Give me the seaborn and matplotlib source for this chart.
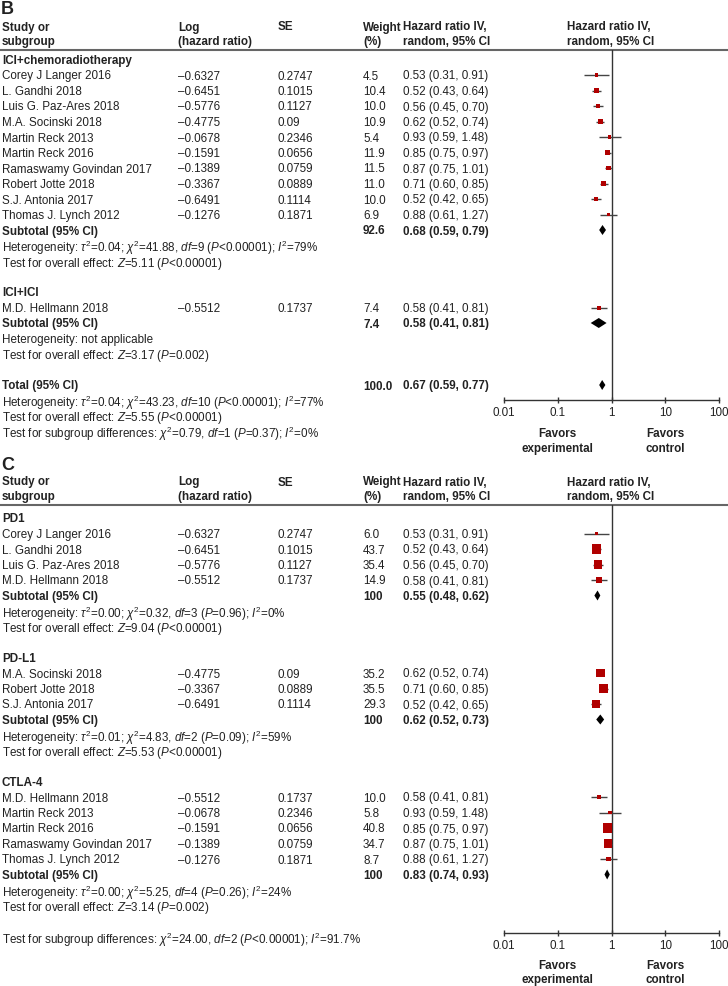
import numpy as np
import matplotlib
matplotlib.use("Agg")
import matplotlib.pyplot as plt
import seaborn as sns

sns.set_theme(style="white")
plt.rcParams['font.family'] = ['Liberation Sans', 'DejaVu Sans']
plt.rcParams['mathtext.fontset'] = 'custom'
plt.rcParams['mathtext.rm'] = 'Liberation Sans'
plt.rcParams['mathtext.it'] = 'Liberation Sans:italic'
plt.rcParams['mathtext.bf'] = 'Liberation Sans:bold'

# ---- panel B data ----
chemo_names = ["Corey J Langer 2016", "L. Gandhi 2018", "Luis G. Paz-Ares 2018", "M.A. Socinski 2018",
               "Martin Reck 2013", "Martin Reck 2016", "Ramaswamy Govindan 2017", "Robert Jotte 2018",
               "S.J. Antonia 2017", "Thomas J. Lynch 2012"]
chemo_loghr = [-0.6327, -0.6451, -0.5776, -0.4775, -0.0678, -0.1591, -0.1389, -0.3367, -0.6491, -0.1276]
chemo_se = [0.2747, 0.1015, 0.1127, 0.09, 0.2346, 0.0656, 0.0759, 0.0889, 0.1114, 0.1871]
chemo_w = [4.5, 10.4, 10.0, 10.9, 5.4, 11.9, 11.5, 11.0, 10.0, 6.9]
chemo_hr = [0.53, 0.52, 0.56, 0.62, 0.93, 0.85, 0.87, 0.71, 0.52, 0.88]
chemo_lo = [0.31, 0.43, 0.45, 0.52, 0.59, 0.75, 0.75, 0.60, 0.42, 0.61]
chemo_hi = [0.91, 0.64, 0.70, 0.74, 1.48, 0.97, 1.01, 0.85, 0.65, 1.27]
chemo_sub = ("92.6", 0.68, 0.59, 0.79)

ici_names = ["M.D. Hellmann 2018"]
ici_loghr = [-0.5512]
ici_se = [0.1737]
ici_w = [7.4]
ici_hr = [0.58]
ici_lo = [0.41]
ici_hi = [0.81]
ici_sub = ("7.4", 0.58, 0.41, 0.81)

total_b = ("100.0", 0.67, 0.59, 0.77)

# ---- panel C data ----
pd1_names = ["Corey J Langer 2016", "L. Gandhi 2018", "Luis G. Paz-Ares 2018", "M.D. Hellmann 2018"]
pd1_loghr = [-0.6327, -0.6451, -0.5776, -0.5512]
pd1_se = [0.2747, 0.1015, 0.1127, 0.1737]
pd1_w = [6.0, 43.7, 35.4, 14.9]
pd1_hr = [0.53, 0.52, 0.56, 0.58]
pd1_lo = [0.31, 0.43, 0.45, 0.41]
pd1_hi = [0.91, 0.64, 0.70, 0.81]
pd1_sub = ("100", 0.55, 0.48, 0.62)

pdl1_names = ["M.A. Socinski 2018", "Robert Jotte 2018", "S.J. Antonia 2017"]
pdl1_loghr = [-0.4775, -0.3367, -0.6491]
pdl1_se = [0.09, 0.0889, 0.1114]
pdl1_w = [35.2, 35.5, 29.3]
pdl1_hr = [0.62, 0.71, 0.52]
pdl1_lo = [0.52, 0.60, 0.42]
pdl1_hi = [0.74, 0.85, 0.65]
pdl1_sub = ("100", 0.62, 0.52, 0.73)

ctla_names = ["M.D. Hellmann 2018", "Martin Reck 2013", "Martin Reck 2016", "Ramaswamy Govindan 2017",
              "Thomas J. Lynch 2012"]
ctla_loghr = [-0.5512, -0.0678, -0.1591, -0.1389, -0.1276]
ctla_se = [0.1737, 0.2346, 0.0656, 0.0759, 0.1871]
ctla_w = [10.0, 5.8, 40.8, 34.7, 8.7]
ctla_hr = [0.58, 0.93, 0.85, 0.87, 0.88]
ctla_lo = [0.41, 0.59, 0.75, 0.75, 0.61]
ctla_hi = [0.81, 1.48, 0.97, 1.01, 1.27]
ctla_sub = ("100", 0.83, 0.74, 0.93)

axis_ticks = [0.01, 0.1, 1, 10, 100]
axis_ticklabels = ["0.01", "0.1", "1", "10", "100"]

# layout (pixels)
W, H = 728, 986
DY = 15.5
FS = 8.4
X_STUDY, X_LOG, X_SE, X_W, X_HR, X_HR2 = 2, 178, 278, 363, 403, 567
FX0, FX1 = 504, 719
TXT = "#222222"
RED = "#b00000"

fig = plt.figure(figsize=(W / 100, H / 100), dpi=100)
main = fig.add_axes([0, 0, 1, 1])
main.set_xlim(0, W)
main.set_ylim(H, 0)
main.axis("off")


def T(x, y, s, bold=False, size=FS):
    main.text(x, y, s, fontsize=size, color=TXT, ha="left", va="center_baseline",
              fontweight="bold" if bold else "normal")


def fmt_ci(hr, lo, hi):
    return f"{hr:.2f} ({lo:.2f}, {hi:.2f})"


def make_forest(y_top, y_bot, fav_y):
    ax = fig.add_axes([FX0 / W, 1 - y_bot / H, (FX1 - FX0) / W, (y_bot - y_top) / H])
    ax.patch.set_alpha(0)
    ax.set_xscale("log")
    ax.axvline(1, color="#333333", lw=1)
    for sp in ["top", "right", "left"]:
        ax.spines[sp].set_visible(False)
    ax.spines["bottom"].set_color("#333333")
    ax.spines["bottom"].set_linewidth(1)
    ax.set_xticks(axis_ticks)
    ax.set_xticklabels(axis_ticklabels)
    ax.minorticks_off()
    ax.set_yticks([])
    ax.tick_params(axis="x", direction="inout", length=4.5, width=1, color="#333333",
                   labelsize=FS, labelcolor=TXT, pad=3, bottom=True)
    ax.text(0.1, fav_y, "Favors\nexperimental", ha="center", va="center", fontsize=FS,
            fontweight="bold", color=TXT, clip_on=False, linespacing=1.25)
    ax.text(10, fav_y, "Favors\ncontrol", ha="center", va="center", fontsize=FS,
            fontweight="bold", color=TXT, clip_on=False, linespacing=1.25)
    ax._lims = (y_bot, y_top)
    return ax


def finish(ax):
    ax.set_xlim(0.01, 100)
    ax.set_ylim(*ax._lims)
    ax.set(xlabel="", ylabel="")


def header(y_letter, letter, y1):
    T(1, y_letter, letter, bold=True, size=13)
    y2 = y1 + 14.5
    T(X_STUDY, y1, "Study or", bold=True)
    T(X_STUDY, y2, "subgroup", bold=True)
    T(X_LOG, y1, "Log", bold=True)
    T(X_LOG, y2, "(hazard ratio)", bold=True)
    T(X_SE, y1, "SE", bold=True)
    T(X_W, y1, "Weight", bold=True)
    T(X_W, y2, "(%)", bold=True)
    T(X_HR, y1, "Hazard ratio IV,", bold=True)
    T(X_HR, y2, "random, 95% CI", bold=True)
    T(X_HR2, y1, "Hazard ratio IV,", bold=True)
    T(X_HR2, y2, "random, 95% CI", bold=True)
    main.hlines(y2 + 9.5, 0, W, color="#666666", lw=1.5)


def studies(ax, y, names, loghr, se, w, hr, lo, hi):
    ys = y + DY * np.arange(len(names))
    for i in range(len(names)):
        T(X_STUDY, ys[i], names[i])
        T(X_LOG, ys[i], str(loghr[i]).replace("-", "\u2013"))
        T(X_SE, ys[i], str(se[i]))
        T(X_W, ys[i], f"{w[i]:.1f}")
        T(X_HR, ys[i], fmt_ci(hr[i], lo[i], hi[i]))
    ax.hlines(ys, lo, hi, color="#444444", lw=1, zorder=2)
    sns.scatterplot(x=hr, y=ys, size=w, sizes=(0, 105), size_norm=(0, 100), marker="s",
                    color=RED, linewidth=0, legend=False, ax=ax, zorder=3)
    return y + DY * len(names)


def diamond(ax, y, label, sub):
    wt, hr, lo, hi = sub
    T(X_STUDY, y, label, bold=True)
    T(X_W, y, wt, bold=True)
    T(X_HR, y, fmt_ci(hr, lo, hi), bold=True)
    ax.fill([lo, hr, hi, hr], [y, y - 5, y, y + 5], color="black", zorder=3, lw=0)


def het(y, tau, chi, df, p, i2):
    T(X_STUDY, y, "Heterogeneity: $\\tau^2$=" + tau + "; $\\chi^2$=" + chi + ", $df$=" + df
      + " ($P$" + p + "); $I^2$=" + i2)


def overall(y, z, p):
    T(X_STUDY, y, "Test for overall effect: $Z$=" + z + " ($P$" + p + ")")


# ---------------- Panel B ----------------
header(8, "B", 26)
axB = make_forest(50, 400, 441.5)
y = 59.5
T(X_STUDY, y, "ICI+chemoradiotherapy", bold=True)
y = studies(axB, y + DY, chemo_names, chemo_loghr, chemo_se, chemo_w, chemo_hr, chemo_lo, chemo_hi)
diamond(axB, y, "Subtotal (95% CI)", chemo_sub)
het(y + DY, "0.04", "41.88", "9", "<0.00001", "79%")
overall(y + 2 * DY, "5.11", "<0.00001")
y += 4 * DY
T(X_STUDY, y, "ICI+ICI", bold=True)
y = studies(axB, y + DY, ici_names, ici_loghr, ici_se, ici_w, ici_hr, ici_lo, ici_hi)
diamond(axB, y, "Subtotal (95% CI)", ici_sub)
T(X_STUDY, y + DY, "Heterogeneity: not applicable")
overall(y + 2 * DY, "3.17", "=0.002")
y += 4 * DY
diamond(axB, y, "Total (95% CI)", total_b)
het(y + DY, "0.04", "43.23", "10", "<0.00001", "77%")
overall(y + 2 * DY, "5.55", "<0.00001")
T(X_STUDY, y + 3 * DY, "Test for subgroup differences: $\\chi^2$=0.79, $df$=1 ($P$=0.37); $I^2$=0%")
finish(axB)

# ---------------- Panel C ----------------
header(463, "C", 481)
axC = make_forest(505, 933, 973)
y = 518
T(X_STUDY, y, "PD1", bold=True)
y = studies(axC, y + DY, pd1_names, pd1_loghr, pd1_se, pd1_w, pd1_hr, pd1_lo, pd1_hi)
diamond(axC, y, "Subtotal (95% CI)", pd1_sub)
het(y + DY, "0.00", "0.32", "3", "=0.96", "0%")
overall(y + 2 * DY, "9.04", "<0.00001")
y += 4 * DY
T(X_STUDY, y, "PD-L1", bold=True)
y = studies(axC, y + DY, pdl1_names, pdl1_loghr, pdl1_se, pdl1_w, pdl1_hr, pdl1_lo, pdl1_hi)
diamond(axC, y, "Subtotal (95% CI)", pdl1_sub)
het(y + DY, "0.01", "4.83", "2", "=0.09", "59%")
overall(y + 2 * DY, "5.53", "<0.00001")
y += 4 * DY
T(X_STUDY, y, "CTLA-4", bold=True)
y = studies(axC, y + DY, ctla_names, ctla_loghr, ctla_se, ctla_w, ctla_hr, ctla_lo, ctla_hi)
diamond(axC, y, "Subtotal (95% CI)", ctla_sub)
het(y + DY, "0.00", "5.25", "4", "=0.26", "24%")
overall(y + 2 * DY, "3.14", "=0.002")
T(X_STUDY, 937, "Test for subgroup differences: $\\chi^2$=24.00, $df$=2 ($P$<0.00001); $I^2$=91.7%")
finish(axC)

fig.savefig("out.png", dpi=100)
